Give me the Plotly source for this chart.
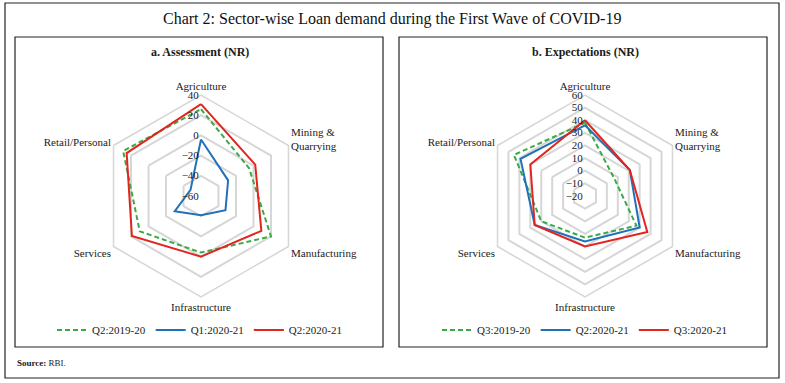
import plotly.graph_objects as go

W, H = 785, 383

categories = ["Agriculture", "Mining &<br>Quarrying", "Manufacturing",
              "Infrastructure", "Services", "Retail/Personal"]

# Panel a: Assessment (NR)
assess_q2_1920 = [26, -5, 20, -4, 10, 29]
assess_q1_2021 = [-4, -29, -32, -41, -30, -48]
assess_q2_2021 = [31, 2, 9, 0, 19, 25]
assess_ticks = [-60, -40, -20, 0, 20, 40]

# Panel b: Expectations (NR)
expect_q3_1920 = [38, 7, 27, 13, 20, 45]
expect_q2_2021 = [36, 21, 30, 16, 26, 39]
expect_q3_2021 = [40, 21, 37, 20, 26, 30]
expect_ticks = [-20, -10, 0, 10, 20, 30, 40, 50, 60]

GREEN = "#3AAA48"
BLUE = "#1F72BA"
RED = "#E0261F"
FONT = "Liberation Serif"
TXT = "#1a1a1a"


def px(x):
    return x / W


def py(y):
    return 1 - y / H


def closed(v):
    return list(v) + [v[0]]


cats_closed = closed(categories)

fig = go.Figure()

left_series = [("Q2:2019-20", assess_q2_1920, GREEN, "5px,3px"),
               ("Q1:2020-21", assess_q1_2021, BLUE, "solid"),
               ("Q2:2020-21", assess_q2_2021, RED, "solid")]
right_series = [("Q3:2019-20", expect_q3_1920, GREEN, "5px,3px"),
                ("Q2:2020-21", expect_q2_2021, BLUE, "solid"),
                ("Q3:2020-21", expect_q3_2021, RED, "solid")]

for name, vals, col, dash in left_series:
    fig.add_trace(go.Scatterpolar(r=closed(vals), theta=cats_closed, mode="lines",
                                  name=name, line=dict(color=col, width=2, dash=dash),
                                  subplot="polar", legend="legend"))
for name, vals, col, dash in right_series:
    fig.add_trace(go.Scatterpolar(r=closed(vals), theta=cats_closed, mode="lines",
                                  name=name, line=dict(color=col, width=2, dash=dash),
                                  subplot="polar2", legend="legend2"))

GRID = "#D6D6D6"


def polar_cfg(cx, cy, R, rng, ticks):
    return dict(
        domain=dict(x=[px(cx - R), px(cx + R)], y=[py(cy + R), py(cy - R)]),
        gridshape="linear",
        bgcolor="rgba(0,0,0,0)",
        angularaxis=dict(direction="clockwise", rotation=90, showgrid=False,
                         showline=True, linecolor=GRID, linewidth=1.5,
                         ticks="", tickfont=dict(family=FONT, size=11, color=TXT),
                         categoryorder="array", categoryarray=categories),
        radialaxis=dict(range=rng, tickvals=ticks, angle=90, tickangle=90,
                        side="counterclockwise", showline=False, ticks="",
                        gridcolor=GRID, gridwidth=1.5,
                        tickfont=dict(family=FONT, size=11, color=TXT)),
    )


fig.update_layout(
    width=W, height=H,
    margin=dict(l=0, r=0, t=0, b=0),
    paper_bgcolor="white", plot_bgcolor="white",
    polar=polar_cfg(201, 196, 101, [-60, 40], assess_ticks),
    polar2=polar_cfg(585, 196, 101, [-20, 60], expect_ticks),
    legend=dict(orientation="h", x=px(200), xanchor="center", y=py(330), yanchor="middle",
                font=dict(family=FONT, size=11, color=TXT), bgcolor="rgba(0,0,0,0)"),
    legend2=dict(orientation="h", x=px(585), xanchor="center", y=py(330), yanchor="middle",
                 font=dict(family=FONT, size=11, color=TXT), bgcolor="rgba(0,0,0,0)"),
    showlegend=True,
)

shapes = [
    dict(type="rect", xref="paper", yref="paper", x0=px(5), x1=px(779), y0=py(378), y1=py(3),
         line=dict(color="#222", width=1.2)),
    dict(type="rect", xref="paper", yref="paper", x0=px(15), x1=px(383), y0=py(347), y1=py(37),
         line=dict(color="#222", width=1.2)),
    dict(type="rect", xref="paper", yref="paper", x0=px(399), x1=px(767), y0=py(347), y1=py(37),
         line=dict(color="#222", width=1.2)),
]
fig.update_layout(shapes=shapes)

annotations = [
    dict(text="Chart 2: Sector-wise Loan demand during the First Wave of COVID-19",
         x=px(392), y=py(19), xref="paper", yref="paper", showarrow=False,
         xanchor="center", yanchor="middle",
         font=dict(family=FONT, size=16, color="#111")),
    dict(text="<b>a. Assessment (NR)</b>", x=px(200), y=py(52), xref="paper", yref="paper",
         showarrow=False, xanchor="center", yanchor="middle",
         font=dict(family=FONT, size=12, color=TXT)),
    dict(text="<b>b. Expectations (NR)</b>", x=px(585), y=py(52), xref="paper", yref="paper",
         showarrow=False, xanchor="center", yanchor="middle",
         font=dict(family=FONT, size=12, color=TXT)),
    dict(text="<b>Source:</b> RBI.", x=px(15), y=py(363), xref="paper", yref="paper",
         showarrow=False, xanchor="left", yanchor="middle",
         font=dict(family=FONT, size=9, color=TXT)),
]
fig.update_layout(annotations=annotations)

fig.write_html("out.html",
               config={"displayModeBar": False},
               post_script="document.body.style.margin='0';document.body.style.overflow='hidden';")
